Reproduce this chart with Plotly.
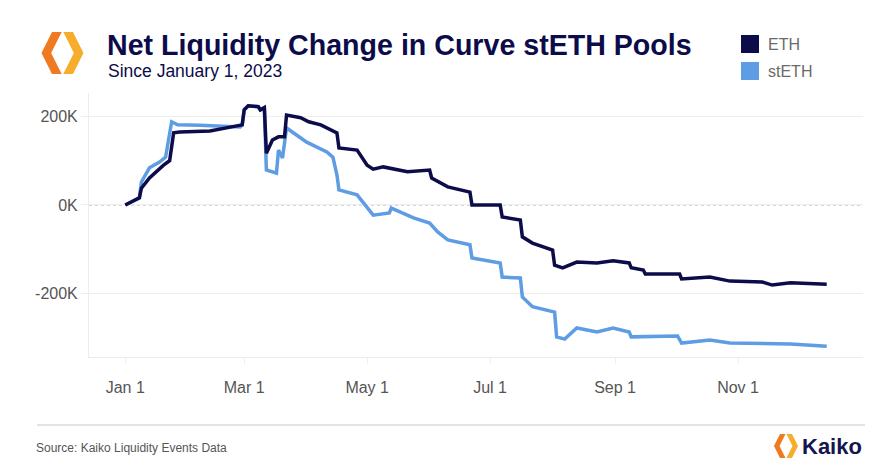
import plotly.graph_objects as go

# ---------------- data (values in thousands) ----------------
eth_dates = ["2023-01-01","2023-01-08","2023-01-09","2023-01-13","2023-01-20","2023-01-23","2023-01-25","2023-01-28",
             "2023-02-12","2023-02-19","2023-02-28","2023-03-01","2023-03-03","2023-03-08","2023-03-09","2023-03-11",
             "2023-03-12","2023-03-15","2023-03-18","2023-03-21","2023-03-22","2023-03-29","2023-04-02","2023-04-08",
             "2023-04-11","2023-04-16",
             "2023-04-17","2023-04-26","2023-05-01","2023-05-04","2023-05-09","2023-05-21","2023-06-01","2023-06-02",
             "2023-06-10","2023-06-21","2023-06-22","2023-07-06","2023-07-07","2023-07-16","2023-07-17","2023-07-22",
             "2023-08-01","2023-08-02","2023-08-06","2023-08-13","2023-08-23","2023-08-31","2023-09-08","2023-09-09",
             "2023-09-15","2023-09-16","2023-10-03","2023-10-04","2023-10-18","2023-10-28","2023-11-13","2023-11-18",
             "2023-11-27","2023-12-15"]
eth_k = [0, 16, 38, 61, 90, 100, 163, 165,
         167, 174, 181, 215, 224, 222, 215, 220,
         117, 147, 154, 154, 203, 197, 188, 181,
         174, 163,
         129, 124, 90, 81, 86, 75, 79, 61,
         41, 29, 0, 0, -27, -34, -72, -86,
         -102, -136, -142, -129, -131, -126, -131, -142,
         -147, -156, -156, -167, -163, -172, -174, -181,
         -176, -179]

steth_dates = ["2023-01-01","2023-01-08","2023-01-09","2023-01-13","2023-01-18","2023-01-21","2023-01-24","2023-01-27",
               "2023-02-07","2023-02-27","2023-02-28","2023-03-01","2023-03-03","2023-03-08","2023-03-09","2023-03-11",
               "2023-03-12","2023-03-17","2023-03-18","2023-03-20","2023-03-22","2023-04-01","2023-04-11","2023-04-14",
               "2023-04-16","2023-04-17","2023-04-26","2023-05-01","2023-05-04","2023-05-12","2023-05-13","2023-05-24",
               "2023-06-01","2023-06-05","2023-06-10","2023-06-21","2023-06-22","2023-07-06","2023-07-07","2023-07-16",
               "2023-07-17","2023-07-22","2023-08-02","2023-08-03","2023-08-07","2023-08-13","2023-08-23","2023-08-31",
               "2023-09-08","2023-09-09","2023-10-02","2023-10-04","2023-10-18","2023-10-28","2023-11-27","2023-12-15"]
steth_k = [0, 16, 52, 84, 97, 108, 188, 181,
           180, 176, 181, 215, 224, 222, 215, 220,
           79, 72, 124, 106, 174, 142, 120, 108,
           68, 34, 23, -7, -23, -18, -7, -29,
           -41, -61, -79, -90, -120, -131, -163, -165,
           -208, -230, -242, -298, -303, -278, -287, -278,
           -287, -298, -296, -312, -305, -312, -314, -319]

series_names = ["ETH", "stETH"]
tick_dates = ["2023-01-01", "2023-03-01", "2023-05-01", "2023-07-01", "2023-09-01", "2023-11-01"]
tick_labels = ["Jan 1", "Mar 1", "May 1", "Jul 1", "Sep 1", "Nov 1"]
y_ticks_k = [-200, 0, 200]
y_tick_labels = ["-200K", "0K", "200K"]

# ---------------- styling ----------------
NAVY = "#0c0c4a"
LIGHT = "#5e9de3"
FONT = "Liberation Sans, Arial, sans-serif"
OFF = 8  # page body margin in the browser
W, H = 889 - OFF, 475 - OFF
L, R, T, B = 89 - OFF, 863 - OFF, 93 - OFF, 357 - OFF


def px(xp):
    return (xp - OFF - L) / (R - L)


def py(yp):
    return (B - (yp - OFF)) / (B - T)


fig = go.Figure()
fig.add_trace(go.Scatter(x=steth_dates, y=[v * 1000 for v in steth_k], mode="lines",
                         line=dict(color=LIGHT, width=3.5), name=series_names[1],
                         showlegend=False, hoverinfo="skip"))
fig.add_trace(go.Scatter(x=eth_dates, y=[v * 1000 for v in eth_k], mode="lines",
                         line=dict(color=NAVY, width=3.5), name=series_names[0],
                         showlegend=False, hoverinfo="skip"))

shapes = []
shapes.append(dict(type="line", xref="paper", yref="y", x0=0, x1=1, y0=0, y1=0,
                   line=dict(color="#a8a8a8", width=1, dash="dot"), layer="below"))
shapes.append(dict(type="line", xref="paper", yref="paper", x0=px(37), x1=px(865), y0=py(425), y1=py(425),
                   line=dict(color="#c8c8c8", width=1)))
shapes.append(dict(type="rect", xref="paper", yref="paper", x0=px(741), x1=px(759), y0=py(35), y1=py(53),
                   fillcolor=NAVY, line=dict(width=0)))
shapes.append(dict(type="rect", xref="paper", yref="paper", x0=px(741), x1=px(759), y0=py(62), y1=py(80),
                   fillcolor=LIGHT, line=dict(width=0)))


def logo(cx, cy, r, shapes):
    t = 0.46 * r
    left = [(cx - 0.5 * r, cy - r), (cx - 0.5 * r + t, cy - r), (cx - r + t, cy),
            (cx - 0.5 * r + t, cy + r), (cx - 0.5 * r, cy + r), (cx - r, cy)]
    right = [(cx + 0.5 * r, cy - r), (cx + 0.5 * r - t, cy - r), (cx + r - t, cy),
             (cx + 0.5 * r - t, cy + r), (cx + 0.5 * r, cy + r), (cx + r, cy)]
    for pts, col in ((left, "#f07a22"), (right, "#f6ad2c")):
        path = "M " + " L ".join(f"{px(x):.5f},{py(y):.5f}" for x, y in pts) + " Z"
        shapes.append(dict(type="path", xref="paper", yref="paper", path=path,
                           fillcolor=col, line=dict(width=0)))


logo(62.5, 53, 21, shapes)
logo(786, 446, 12, shapes)

annotations = [
    dict(text="<b>Net Liquidity Change in Curve stETH Pools</b>", x=px(105), y=py(45), xref="paper", yref="paper",
         xanchor="left", yanchor="middle", showarrow=False, font=dict(family=FONT, size=28.6, color=NAVY)),
    dict(text="Since January 1, 2023", x=px(106), y=py(71), xref="paper", yref="paper",
         xanchor="left", yanchor="middle", showarrow=False, font=dict(family=FONT, size=17.5, color=NAVY)),
    dict(text=series_names[0], x=px(766), y=py(44), xref="paper", yref="paper",
         xanchor="left", yanchor="middle", showarrow=False, font=dict(family=FONT, size=16, color="#6a6a6a")),
    dict(text=series_names[1], x=px(766), y=py(71), xref="paper", yref="paper",
         xanchor="left", yanchor="middle", showarrow=False, font=dict(family=FONT, size=16, color="#6a6a6a")),
    dict(text="Source: Kaiko Liquidity Events Data", x=px(34), y=py(448), xref="paper", yref="paper",
         xanchor="left", yanchor="middle", showarrow=False, font=dict(family=FONT, size=12, color="#555555")),
    dict(text="<b>Kaiko</b>", x=px(800), y=py(446), xref="paper", yref="paper",
         xanchor="left", yanchor="middle", showarrow=False, font=dict(family=FONT, size=22, color="#15154f")),
]

fig.update_layout(
    width=W, height=H,
    margin=dict(l=L, r=W - R, t=T, b=H - B, pad=0),
    paper_bgcolor="white", plot_bgcolor="white",
    showlegend=False,
    shapes=shapes, annotations=annotations,
    font=dict(family=FONT, size=16, color="#555555"),
)
fig.update_xaxes(type="date", range=["2022-12-14", "2024-01-02"],
                 tickvals=tick_dates, ticktext=tick_labels,
                 showgrid=False, zeroline=False, showline=True, linecolor="#ececec", linewidth=1,
                 ticks="outside", ticklen=6, tickcolor="#eeeeee",
                 tickfont=dict(family=FONT, size=16, color="#555555"), ticklabelstandoff=10)
fig.update_yaxes(range=[-343500, 253000], tickvals=[v * 1000 for v in y_ticks_k], ticktext=y_tick_labels,
                 showgrid=True, gridcolor="#eeeeee", gridwidth=1, zeroline=False,
                 showline=True, linecolor="#ececec", linewidth=1,
                 ticks="outside", ticklen=7, tickcolor="#eeeeee",
                 tickfont=dict(family=FONT, size=16, color="#555555"))

fig.write_html("out.html")
